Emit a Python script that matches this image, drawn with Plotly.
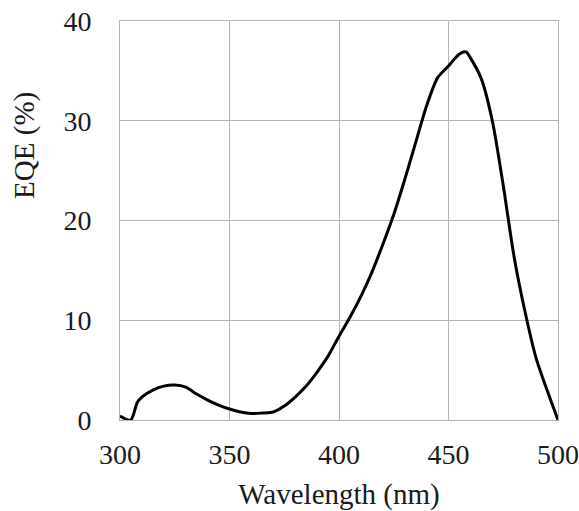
import plotly.graph_objects as go

wavelength = [300, 303, 305, 308, 310, 315, 320, 325, 330, 335, 340, 345, 350, 355, 360, 365, 370,
              375, 380, 385, 390, 395, 400, 405, 410, 415, 420, 425, 430, 435, 440, 445, 450,
              455, 458, 460, 465, 470, 475, 480, 485, 490, 495, 500]
eqe = [0.4, 0.05, 0.0, 1.8, 2.3, 3.0, 3.4, 3.5, 3.3, 2.6, 2.0, 1.5, 1.1, 0.8, 0.65, 0.7, 0.8,
       1.4, 2.3, 3.4, 4.8, 6.4, 8.4, 10.3, 12.4, 14.8, 17.6, 20.6, 24.1, 27.8, 31.5, 34.3, 35.5,
       36.7, 36.9, 36.3, 34.2, 30.0, 23.5, 16.3, 10.8, 6.2, 3.0, 0.0]
x_ticks = [300, 350, 400, 450, 500]
y_ticks = [0, 10, 20, 30, 40]
x_title = "Wavelength (nm)"
y_title = "EQE (%)"

fig = go.Figure()
fig.add_trace(go.Scatter(x=wavelength, y=eqe, mode="lines",
                         line=dict(color="black", width=3, shape="spline", smoothing=0.8),
                         showlegend=False, hoverinfo="skip"))

family = "Liberation Serif, Times New Roman, serif"
fig.update_layout(
    width=579, height=511,
    margin=dict(l=120, r=21, t=21, b=91, autoexpand=False),
    paper_bgcolor="white", plot_bgcolor="white",
    font=dict(family=family, size=28, color="#1a1a1a"),
)
fig.update_xaxes(range=[300, 500], tickvals=x_ticks, showgrid=True, gridcolor="#b3b3b3", gridwidth=1,
                 showline=True, linecolor="#b3b3b3", linewidth=1, mirror=True, zeroline=False,
                 ticks="", ticklabelstandoff=9, tickfont=dict(size=28), automargin=False,
                 ticklabeloverflow="allow",
                 title=dict(text=x_title, standoff=15, font=dict(family=family, size=29)))
fig.update_yaxes(range=[0, 40], tickvals=y_ticks, showgrid=True, gridcolor="#b3b3b3", gridwidth=1,
                 showline=True, linecolor="#b3b3b3", linewidth=1, mirror=True, zeroline=False,
                 ticks="", ticklabelstandoff=22, tickfont=dict(size=28), automargin=False,
                 ticklabeloverflow="allow")
fig.add_annotation(text=y_title, xref="paper", yref="paper", x=0, y=0.687,
                   xanchor="center", yanchor="middle", xshift=-95, textangle=-90,
                   showarrow=False, font=dict(family=family, size=29, color="#1a1a1a"))
fig.write_html("out.html", config={"displayModeBar": False},
               post_script="document.body.style.margin='0';document.body.style.overflow='hidden';")
